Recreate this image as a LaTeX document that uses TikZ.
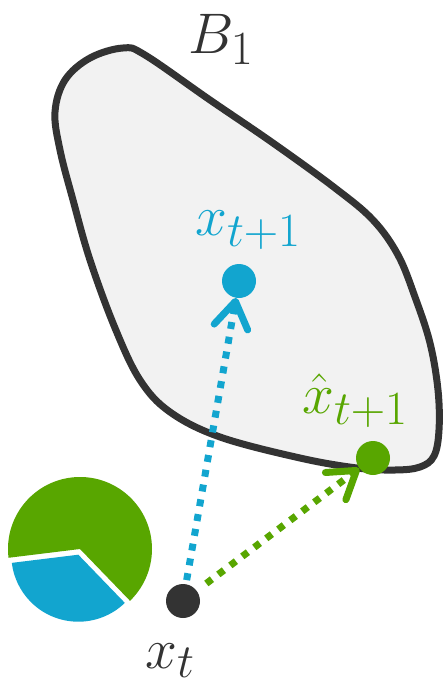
\documentclass[tikz,border=0pt]{standalone}
\usetikzlibrary{arrows.meta}
\definecolor{cblue}{HTML}{12A5CF}
\definecolor{cgreen}{HTML}{58A600}
\definecolor{cdark}{HTML}{333333}
\definecolor{cfill}{HTML}{F2F2F2}
\newcommand{\biglbl}[1]{\scalebox{2.3}{\Huge$#1$}}
\begin{document}
\begin{tikzpicture}[x=1pt,y=-1pt,
  dot/.style={circle,inner sep=0pt,minimum size=34pt},
  lbl/.style={inner sep=0pt},
  dotline/.style={line width=7pt,dash pattern=on 7pt off 8pt,
    -{Straight Barb[length=26pt,width=34pt,round]}}]
\useasboundingbox (0,0) rectangle (442,688);
% region B1
\draw[line width=7pt,draw=cdark,fill=cfill] plot[smooth cycle,tension=0.6] coordinates {
  (123,48) (145,55) (210,100) (273,143) (335,188) (373,220) (398,255)
  (415,297) (430,343) (438,390) (439,430) (434,456) (420,467) (395,470)
  (357,468) (300,458) (220,437) (170,412) (140,380) (115,328)
  (90,260) (73,200) (60,150) (55,112) (65,80) (90,58)};
\node[lbl,text=cdark,anchor=base west] (lB) at (188,53) {\biglbl{B_1}};
% pie
\fill[cgreen] (80,549) -- ++(173:72) arc[start angle=173,end angle=406,radius=72] -- cycle;
\fill[cblue] (78.3,554.7) -- ++(46:67) arc[start angle=46,end angle=173,radius=67] -- cycle;
% points
\node[dot,fill=cdark] (xt) at (183,601) {};
\node[dot,fill=cblue] (xb) at (239,281) {};
\node[dot,fill=cgreen] (xg) at (373,458) {};
% labels
\node[lbl,text=cdark,anchor=base west] (lxt) at (145,668) {\biglbl{x_t}};
\node[lbl,text=cblue,anchor=base west] (lxb) at (195,235) {\biglbl{x_{t+1}}};
\node[lbl,text=cgreen,anchor=base west] (lxg) at (302,413) {\biglbl{\hat{x}_{t+1}}};
% connectors
\draw[dotline,cblue,shorten <=4pt] (xt) -- (xb);
\draw[dotline,cgreen,shorten <=12pt] (xt) -- (xg);
\end{tikzpicture}
\end{document}
